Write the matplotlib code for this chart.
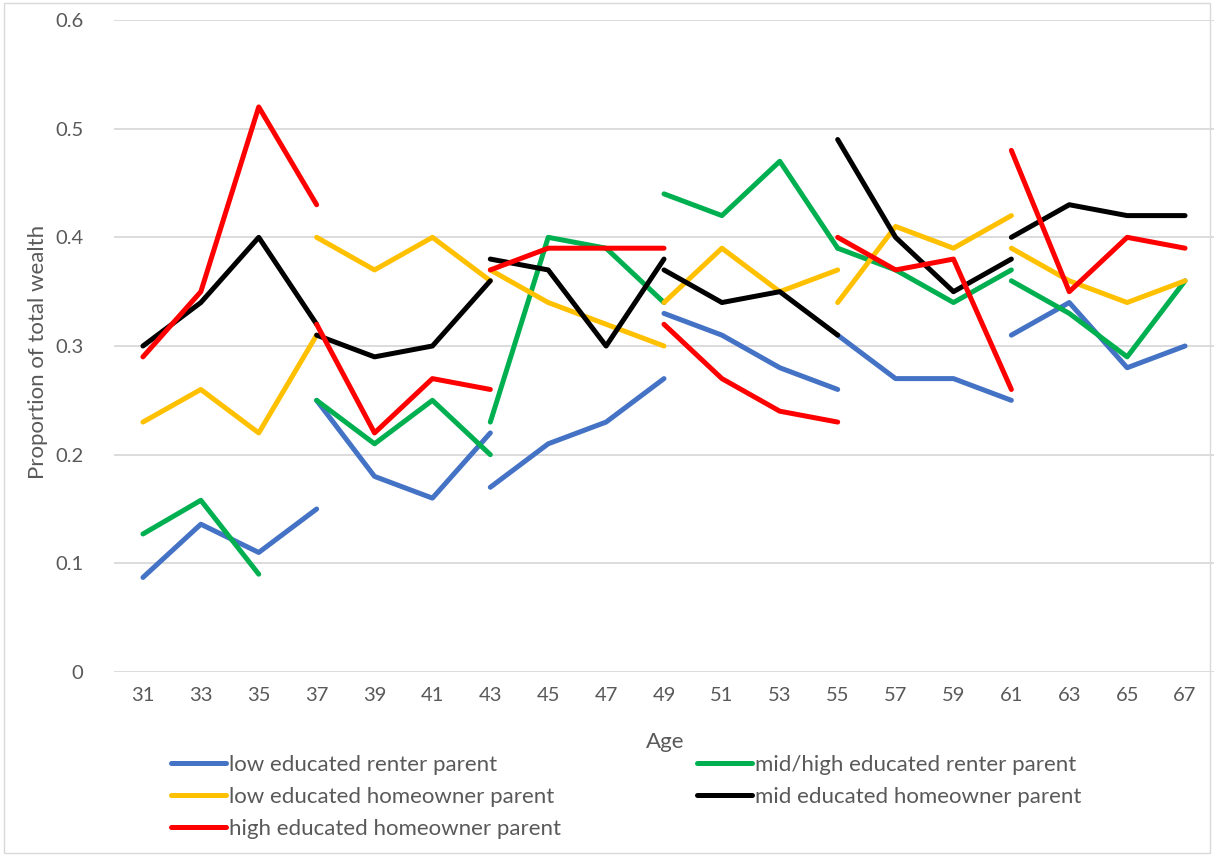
import numpy as np
import matplotlib.pyplot as plt
from matplotlib.lines import Line2D
from matplotlib.patches import Rectangle

# age categories on the x axis, and the age at which each 4-point block starts
ages = [31, 33, 35, 37, 39, 41, 43, 45, 47, 49, 51, 53, 55, 57, 59, 61, 63, 65, 67]
block_starts = [31, 37, 43, 49, 55, 61]

nan = np.nan

low_renter = [
    [0.087, 0.136, 0.11, 0.15],
    [0.25, 0.18, 0.16, 0.22],
    [0.17, 0.21, 0.23, 0.27],
    [0.33, 0.31, 0.28, 0.26],
    [0.31, 0.27, 0.27, 0.25],
    [0.31, 0.34, 0.28, 0.30],
]
midhigh_renter = [
    [0.127, 0.158, 0.09, nan],
    [0.25, 0.21, 0.25, 0.20],
    [0.23, 0.40, 0.39, 0.34],
    [0.44, 0.42, 0.47, 0.39],
    [0.39, 0.37, 0.34, 0.37],
    [0.36, 0.33, 0.29, 0.36],
]
low_owner = [
    [0.23, 0.26, 0.22, 0.31],
    [0.40, 0.37, 0.40, 0.36],
    [0.37, 0.34, 0.32, 0.30],
    [0.34, 0.39, 0.35, 0.37],
    [0.34, 0.41, 0.39, 0.42],
    [0.39, 0.36, 0.34, 0.36],
]
mid_owner = [
    [0.30, 0.34, 0.40, 0.32],
    [0.31, 0.29, 0.30, 0.36],
    [0.38, 0.37, 0.30, 0.38],
    [0.37, 0.34, 0.35, 0.31],
    [0.49, 0.40, 0.35, 0.38],
    [0.40, 0.43, 0.42, 0.42],
]
high_owner = [
    [0.29, 0.35, 0.52, 0.43],
    [0.32, 0.22, 0.27, 0.26],
    [0.37, 0.39, 0.39, 0.39],
    [0.32, 0.27, 0.24, 0.23],
    [0.40, 0.37, 0.38, 0.26],
    [0.48, 0.35, 0.40, 0.39],
]

series = [
    ("low educated renter parent", low_renter, "#4472C4"),
    ("mid/high educated renter parent", midhigh_renter, "#00B050"),
    ("low educated homeowner parent", low_owner, "#FFC000"),
    ("mid educated homeowner parent", mid_owner, "#000000"),
    ("high educated homeowner parent", high_owner, "#FF0000"),
]

plt.rcParams['font.family'] = ['Lato', 'DejaVu Sans']
txt = "#595959"

fig = plt.figure(figsize=(12.14, 8.55), dpi=100)
ax = fig.add_axes([114 / 1214, 1 - 672 / 855, 1100 / 1214, 652 / 855])

handles = {}
for name, blocks, col in series:
    for start, vals in zip(block_starts, blocks):
        i = ages.index(start)
        x = ages[i:i + 4]
        ax.plot(x, vals, color=col, lw=3.6, solid_capstyle='round',
                solid_joinstyle='round')
    handles[name] = Line2D([], [], color=col, lw=3.6, solid_capstyle='round')

ax.set_xlim(30, 68)
ax.set_ylim(0, 0.6)
ax.set_xticks(ages)
ax.set_xticklabels([str(a) for a in ages])
ax.set_yticks([0, 0.1, 0.2, 0.3, 0.4, 0.5, 0.6])
ax.set_yticklabels(["0", "0.1", "0.2", "0.3", "0.4", "0.5", "0.6"])
ax.grid(axis='y', color="#D9D9D9", lw=1.3)
ax.set_axisbelow(True)
for s in ax.spines.values():
    s.set_visible(False)
ax.tick_params(length=0, labelsize=14.5, colors=txt, pad=11)
ax.tick_params(axis='y', pad=22)

fig.text(665 / 1214, 1 - 742 / 855, "Age", ha='center', va='center', fontsize=16, color=txt)
fig.text(38 / 1214, 1 - 352 / 855, "Proportion of total wealth", ha='center', va='center',
         rotation=90, fontsize=16, color=txt)

order = ["low educated renter parent", "low educated homeowner parent",
         "high educated homeowner parent", "mid/high educated renter parent",
         "mid educated homeowner parent"]
fig.legend([handles[n] for n in order], order, ncol=2, loc='upper left',
           bbox_to_anchor=(151 / 1214, 1 - 735 / 855), frameon=False,
           fontsize=16, labelcolor=txt, handlelength=2.48, handletextpad=0.14,
           labelspacing=0.53, columnspacing=6.1)

fig.patches.append(Rectangle((0.003, 0.002), 0.994, 0.995, transform=fig.transFigure,
                             fill=False, ec="#D9D9D9", lw=1))

plt.savefig("out.png", dpi=100)
